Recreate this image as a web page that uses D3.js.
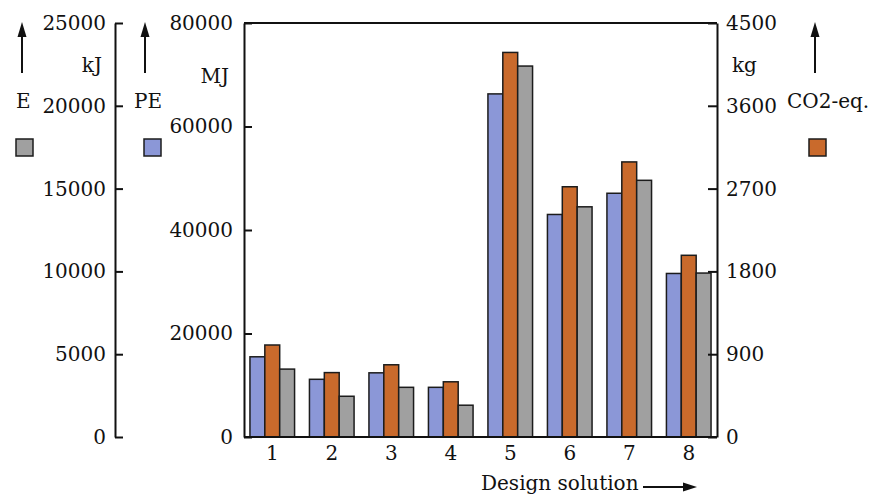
<!DOCTYPE html>
<html>
<head>
<meta charset="utf-8">
<script src="https://cdn.jsdelivr.net/npm/d3@7"></script>
<style>
  body { margin: 0; background: #fff; }
  text { font-family: "DejaVu Serif", serif; fill: #111; }
</style>
</head>
<body>
<svg id="chart" width="870" height="500"></svg>
<script>
const categories = ["1", "2", "3", "4", "5", "6", "7", "8"];
const seriesNames = ["PE", "CO2", "E"];
const peValues  = [15500, 11150, 12400, 9600, 66300, 43000, 47100, 31600];   // MJ
const co2Values = [1000, 700, 785, 600, 4180, 2720, 2990, 1975];              // kg CO2-eq.
const eValues   = [4100, 2460, 3000, 1920, 22400, 13900, 15500, 9900];        // kJ
const eTicks   = [0, 5000, 10000, 15000, 20000, 25000];
const peTicks  = [0, 20000, 40000, 60000, 80000];
const co2Ticks = [0, 900, 1800, 2700, 3600, 4500];
const colors = { PE: "#8b97d7", CO2: "#c96a2c", E: "#a0a0a0" };

(function () {
const svg = d3.select("#chart");
const mLeft = 244, mRight = 717, mTop = 23, mBottom = 437;
const FS = 20;

const x = d3.scaleBand().domain(categories).range([mLeft, mRight]).paddingInner(0.25).paddingOuter(0.1);
const xs = d3.scaleBand().domain(seriesNames).range([0, x.bandwidth()]);
const yPE = d3.scaleLinear().domain([0, 80000]).range([mBottom, mTop]);
const yCO2 = d3.scaleLinear().domain([0, 4500]).range([mBottom, mTop]);
const yE = d3.scaleLinear().domain([0, 25000]).range([mBottom, mTop]);
const scales = { PE: yPE, CO2: yCO2, E: yE };
const vals = { PE: peValues, CO2: co2Values, E: eValues };

// bars
const rows = categories.map((c, i) => seriesNames.map(s => ({ c, s, v: vals[s][i] })));
svg.append("g").selectAll("g").data(rows).join("g")
  .attr("transform", d => `translate(${x(d[0].c)},0)`)
  .selectAll("rect").data(d => d).join("rect")
  .attr("x", d => xs(d.s))
  .attr("width", xs.bandwidth())
  .attr("y", d => scales[d.s](d.v))
  .attr("height", d => mBottom - scales[d.s](d.v))
  .attr("fill", d => colors[d.s])
  .attr("stroke", "#1c1c1c")
  .attr("stroke-width", 1.5);

function styleAxis(g) {
  g.selectAll("path, line").attr("stroke", "#111").attr("stroke-width", 2);
  g.selectAll("text").attr("font-family", "DejaVu Serif, serif").attr("font-size", FS).attr("fill", "#111");
}

// E axis (outer left)
svg.append("g").attr("transform", "translate(115,0)")
  .call(d3.axisLeft(yE).tickValues(eTicks).tickFormat(d3.format("d")).tickSizeInner(-8).tickSizeOuter(0).tickPadding(9))
  .call(styleAxis);

// PE axis (plot left)
svg.append("g").attr("transform", `translate(${mLeft},0)`)
  .call(d3.axisLeft(yPE).tickValues(peTicks).tickFormat(d3.format("d")).tickSizeInner(-8).tickSizeOuter(0).tickPadding(11))
  .call(styleAxis);

// CO2 axis (right)
svg.append("g").attr("transform", `translate(${mRight},0)`)
  .call(d3.axisRight(yCO2).tickValues(co2Ticks).tickFormat(d3.format("d")).tickSizeInner(-9).tickSizeOuter(0).tickPadding(9))
  .call(styleAxis);

// bottom axis
svg.append("g").attr("transform", `translate(0,${mBottom})`)
  .call(d3.axisBottom(x).tickSize(0).tickPadding(9))
  .call(g => g.select(".domain").remove())
  .call(styleAxis);
svg.append("line").attr("x1", mLeft).attr("x2", mRight).attr("y1", mBottom).attr("y2", mBottom)
  .attr("stroke", "#111").attr("stroke-width", 2);
// top frame
svg.append("line").attr("x1", mLeft).attr("x2", mRight).attr("y1", mTop).attr("y2", mTop)
  .attr("stroke", "#111").attr("stroke-width", 2);

// units
svg.append("text").attr("x", 102).attr("y", 72).attr("text-anchor", "end").attr("font-size", FS).text("kJ");
svg.append("text").attr("x", 229).attr("y", 83).attr("text-anchor", "end").attr("font-size", FS).text("MJ");
svg.append("text").attr("x", 732).attr("y", 72).attr("font-size", FS).text("kg");

// legend-like labels with arrows
const legend = [
  { label: "E", cx: 22, tx: 16, s: "E", sqx: 16 },
  { label: "PE", cx: 145, tx: 134, s: "PE", sqx: 144 },
  { label: "CO2-eq.", cx: 815, tx: 787, s: "CO2", sqx: 809 }
];
legend.forEach(l => {
  svg.append("line").attr("x1", l.cx).attr("x2", l.cx).attr("y1", 73).attr("y2", 34)
    .attr("stroke", "#111").attr("stroke-width", 2);
  svg.append("path").attr("d", `M${l.cx},22 L${l.cx - 4.5},37 L${l.cx + 4.5},37 Z`).attr("fill", "#111");
  svg.append("text").attr("x", l.tx).attr("y", 108).attr("font-size", FS).text(l.label);
  svg.append("rect").attr("x", l.sqx).attr("y", 139).attr("width", 17).attr("height", 17)
    .attr("fill", colors[l.s]).attr("stroke", "#1c1c1c").attr("stroke-width", 1.5);
});

// x-axis title with arrow
svg.append("text").attr("x", 481).attr("y", 490).attr("font-size", FS).text("Design solution");
svg.append("line").attr("x1", 643).attr("x2", 686).attr("y1", 487).attr("y2", 487)
  .attr("stroke", "#111").attr("stroke-width", 2);
svg.append("path").attr("d", "M697,487 L683,482.5 L683,491.5 Z").attr("fill", "#111");
})();
</script>
</body>
</html>
